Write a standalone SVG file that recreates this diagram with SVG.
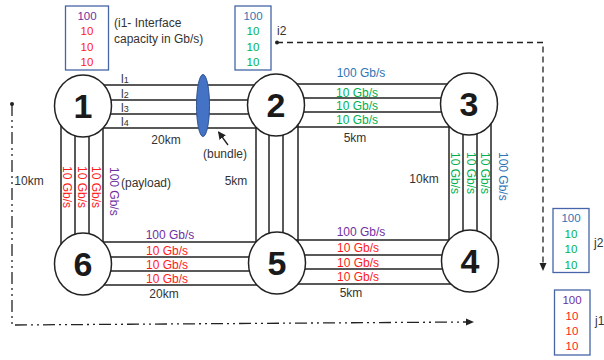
<svg xmlns="http://www.w3.org/2000/svg" width="604" height="360" viewBox="0 0 604 360">
<defs>
<style>
text{font-family:"Liberation Sans",Arial,sans-serif;font-size:12px;fill:#333}
.c{text-anchor:middle}
.num{font-size:34px;font-weight:bold;fill:#1a1a1a;text-anchor:middle}
.bx{font-size:11.5px;text-anchor:middle}
.pu{fill:#7030A0}.rd{fill:#FF1A1A}.gr{fill:#00B050}.bl{fill:#2E75B6}
.link{stroke:#222;stroke-width:1.5;fill:none}
.node{fill:#fff;stroke:#222;stroke-width:1.5}
.box{fill:#fff;stroke:#4565A8;stroke-width:1.3}
.dd{stroke:#222;stroke-width:1.3;fill:none;stroke-dasharray:12 4 2 4 2 4}
.da{stroke:#222;stroke-width:1.3;fill:none;stroke-dasharray:6 4}
</style>
<marker id="ah" viewBox="0 0 10 10" refX="9" refY="5" markerWidth="6" markerHeight="6" orient="auto">
<path d="M0,0 L10,5 L0,10 z" fill="#222"/>
</marker>
</defs>
<rect width="604" height="360" fill="#fff"/>

<g id="connectors">
<!-- 1-2 -->
<line class="link" x1="83" y1="85" x2="276" y2="85"/>
<line class="link" x1="83" y1="100" x2="276" y2="100"/>
<line class="link" x1="83" y1="114" x2="276" y2="114"/>
<line class="link" x1="83" y1="128" x2="276" y2="128"/>
<!-- 2-3 -->
<line class="link" x1="276" y1="84" x2="469" y2="84"/>
<line class="link" x1="276" y1="98" x2="469" y2="98"/>
<line class="link" x1="276" y1="112" x2="469" y2="112"/>
<line class="link" x1="276" y1="127" x2="469" y2="127"/>
<!-- 1-6 -->
<line class="link" x1="61" y1="106" x2="61" y2="264"/>
<line class="link" x1="75" y1="106" x2="75" y2="264"/>
<line class="link" x1="89" y1="106" x2="89" y2="264"/>
<line class="link" x1="103" y1="106" x2="103" y2="264"/>
<!-- 2-5 -->
<line class="link" x1="256" y1="105" x2="256" y2="263"/>
<line class="link" x1="269" y1="105" x2="269" y2="263"/>
<line class="link" x1="283" y1="105" x2="283" y2="263"/>
<line class="link" x1="298" y1="105" x2="298" y2="263"/>
<!-- 3-4 -->
<line class="link" x1="449" y1="104" x2="449" y2="261"/>
<line class="link" x1="463" y1="104" x2="463" y2="261"/>
<line class="link" x1="477" y1="104" x2="477" y2="261"/>
<line class="link" x1="491" y1="104" x2="491" y2="261"/>
<!-- 6-5 -->
<line class="link" x1="83" y1="242" x2="277" y2="242"/>
<line class="link" x1="83" y1="257" x2="277" y2="257"/>
<line class="link" x1="83" y1="271" x2="277" y2="271"/>
<line class="link" x1="83" y1="285" x2="277" y2="285"/>
<!-- 5-4 -->
<line class="link" x1="277" y1="240" x2="470" y2="240"/>
<line class="link" x1="277" y1="255" x2="470" y2="255"/>
<line class="link" x1="277" y1="269" x2="470" y2="269"/>
<line class="link" x1="277" y1="284" x2="470" y2="284"/>
<!-- j1 path -->
<circle cx="12" cy="104" r="2" fill="#222"/>
<path class="dd" d="M12,104 V325 L466,322"/>
<path d="M466,318.5 L474,321.9 L466,325.5 z" fill="#222"/>
<!-- i2 path -->
<circle cx="277" cy="42.5" r="2" fill="#222"/>
<path class="da" d="M277,42.5 H543 V263"/>
<path d="M539.5,263 L543,271 L546.5,263 z" fill="#222"/>
<!-- bundle -->
<ellipse cx="203" cy="105.5" rx="6.5" ry="31" fill="#4472C4" stroke="#2F528F" stroke-width="1"/>
<line x1="228" y1="145" x2="218.5" y2="132" stroke="#222" stroke-width="1.3" marker-end="url(#ah)"/>
</g>

<g id="node1"><ellipse class="node" cx="83" cy="106" rx="28.5" ry="31"/><text class="num" x="83" y="118">1</text></g>
<g id="node2"><ellipse class="node" cx="276" cy="105" rx="28.5" ry="31"/><text class="num" x="276" y="117">2</text></g>
<g id="node3"><ellipse class="node" cx="469" cy="104" rx="28.5" ry="31"/><text class="num" x="469" y="116">3</text></g>
<g id="node6"><ellipse class="node" cx="83" cy="264" rx="28.5" ry="31"/><text class="num" x="83" y="276">6</text></g>
<g id="node5"><ellipse class="node" cx="277" cy="263" rx="28.5" ry="31"/><text class="num" x="277" y="275">5</text></g>
<g id="node4"><ellipse class="node" cx="470" cy="261" rx="28.5" ry="31"/><text class="num" x="470" y="273">4</text></g>

<g id="box-i1">
<rect class="box" x="65.5" y="6" width="43" height="64"/>
<text class="bx pu" x="87" y="19.5">100</text>
<text class="bx rd" x="87" y="35">10</text>
<text class="bx rd" x="87" y="50.5">10</text>
<text class="bx rd" x="87" y="66">10</text>
</g>
<g id="box-i2">
<rect class="box" x="235" y="6" width="36" height="64"/>
<text class="bx bl" x="253" y="19.5">100</text>
<text class="bx gr" x="253" y="35">10</text>
<text class="bx gr" x="253" y="50.5">10</text>
<text class="bx gr" x="253" y="66">10</text>
</g>
<g id="box-j2">
<rect class="box" x="553" y="208.5" width="36" height="64"/>
<text class="bx bl" x="571" y="222">100</text>
<text class="bx gr" x="571" y="237.5">10</text>
<text class="bx gr" x="571" y="253">10</text>
<text class="bx gr" x="571" y="268.5">10</text>
</g>
<g id="box-j1">
<rect class="box" x="554.5" y="290" width="35.5" height="65"/>
<text class="bx pu" x="572" y="304">100</text>
<text class="bx rd" x="572" y="319.5">10</text>
<text class="bx rd" x="572" y="334.5">10</text>
<text class="bx rd" x="572" y="349.5">10</text>
</g>

<g id="labels">
<text x="114" y="27">(i1- Interface</text>
<text x="114" y="42.5">capacity in Gb/s)</text>
<text x="277" y="35">i2</text>
<text x="594" y="247">j2</text>
<text x="595" y="325">j1</text>

<text x="121" y="83" font-size="11">l<tspan font-size="9">1</tspan></text>
<text x="121" y="97.5" font-size="11">l<tspan font-size="9">2</tspan></text>
<text x="121" y="112" font-size="11">l<tspan font-size="9">3</tspan></text>
<text x="121" y="126" font-size="11">l<tspan font-size="9">4</tspan></text>
<text class="c" x="166" y="144">20km</text>
<text class="c" x="225" y="158">(bundle)</text>

<text class="c bl" x="361" y="77">100 Gb/s</text>
<text class="c gr" x="357" y="96.5">10 Gb/s</text>
<text class="c gr" x="357" y="110">10 Gb/s</text>
<text class="c gr" x="357" y="124">10 Gb/s</text>
<text class="c" x="355" y="142">5km</text>

<text class="c" x="29" y="185">10km</text>
<text class="c" x="146" y="187">(payload)</text>
<text class="c" x="236" y="185">5km</text>
<text class="c" x="424" y="183">10km</text>

<text class="rd" transform="translate(63,166) rotate(90)">10 Gb/s</text>
<text class="rd" transform="translate(78,166) rotate(90)">10 Gb/s</text>
<text class="rd" transform="translate(92,166) rotate(90)">10 Gb/s</text>
<text class="pu" transform="translate(110,167) rotate(90)">100 Gb/s</text>

<text class="gr" transform="translate(451,152) rotate(90)">10 Gb/s</text>
<text class="gr" transform="translate(467,152) rotate(90)">10 Gb/s</text>
<text class="gr" transform="translate(481,152) rotate(90)">10 Gb/s</text>
<text class="bl" transform="translate(499,152) rotate(90)">100 Gb/s</text>

<text class="c pu" x="170" y="239">100 Gb/s</text>
<text class="c rd" x="167" y="255">10 Gb/s</text>
<text class="c rd" x="167" y="269">10 Gb/s</text>
<text class="c rd" x="167" y="283">10 Gb/s</text>
<text class="c" x="164" y="298">20km</text>

<text class="c pu" x="361" y="236">100 Gb/s</text>
<text class="c rd" x="358" y="252">10 Gb/s</text>
<text class="c rd" x="358" y="266.5">10 Gb/s</text>
<text class="c rd" x="358" y="280.5">10 Gb/s</text>
<text class="c" x="351" y="297">5km</text>
</g>
</svg>
